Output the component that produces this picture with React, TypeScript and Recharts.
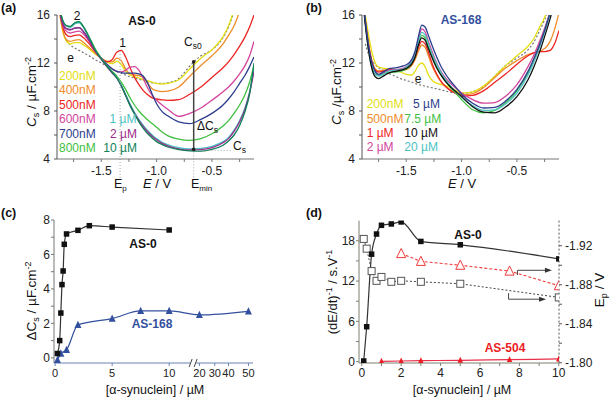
import React from "react";
import { LineChart, ComposedChart, Line, XAxis, YAxis, ReferenceLine, ReferenceDot } from "recharts";

const FONT = '"Liberation Sans", Arial, Helvetica, sans-serif';

// ---------------- Panel (a): AS-0 capacitance curves ----------------
const E_A = [-1.9, -1.86, -1.82, -1.78, -1.74, -1.7, -1.66, -1.6, -1.55, -1.5, -1.45, -1.4, -1.36, -1.32, -1.28, -1.24, -1.2, -1.16, -1.12, -1.08, -1.04, -1.0, -0.95, -0.9, -0.8, -0.7, -0.6, -0.5, -0.4, -0.35, -0.3, -0.25, -0.2, -0.16, -0.12];
const A_E = [null, null, 13.9, 13.5, 13.25, 13.05, 12.85, 12.55, 12.25, 12.0, 11.75, 11.5, 11.3, 11.15, 11.0, 10.85, 10.75, 10.65, 10.55, 10.45, 10.35, 10.3, 10.3, 10.35, 10.7, 11.75, 12.6, 13.1, 14.1, 15.0, 16.3, null, null, null, null];
const A_200NM = [18, 15.2, 13.9, 13.6, 13.7, 13.7, 13.5, 13.1, 12.7, 12.4, 12.1, 11.95, 12.15, 11.9, 11.3, 11.0, 10.85, 10.75, 10.6, 10.5, 10.4, 10.3, 10.25, 10.3, 10.6, 11.5, 12.4, 13.1, 14.2, 15.1, 16.5, null, null, null, null];
const A_400NM = [18, 15.3, 14.0, 13.8, 13.9, 13.95, 13.7, 13.2, 12.8, 12.4, 12.15, 12.1, 12.4, 12.2, 11.5, 11.1, 11.0, 10.95, 10.8, 10.3, 9.85, 9.7, 9.62, 9.65, 10.0, 10.9, 11.8, 12.6, 13.6, 14.3, 15.1, 16.3, null, null, null];
const A_500NM = [18, 15.5, 14.4, 14.2, 14.3, 14.35, 14.1, 13.5, 12.9, 12.4, 12.1, 12.3, 12.9, 13.05, 12.5, 11.6, 10.8, 10.2, 9.7, 9.35, 9.1, 9.0, 8.92, 8.88, 8.95, 9.4, 10.0, 10.8, 11.6, 12.1, 12.7, 13.4, 14.2, 15.0, 16.0];
const A_600NM = [18, 15.6, 14.7, 14.5, 14.6, 14.65, 14.4, 13.7, 13.0, 12.4, 11.9, 11.5, 11.3, 11.25, 11.4, 11.65, 11.7, 11.4, 10.7, 9.9, 9.3, 8.9, 8.5, 8.15, 7.55, 7.8, 8.25, 8.9, 9.6, 10.0, 10.5, 11.1, 11.8, 12.6, 13.8];
const A_700NM = [18, 15.7, 14.9, 14.8, 14.9, 14.95, 14.6, 13.8, 13.0, 12.4, 11.9, 11.5, 11.3, 11.2, 11.15, 11.15, 11.15, 11.1, 10.9, 10.3, 9.4, 8.6, 7.95, 7.6, 7.1, 6.95, 7.3, 7.8, 8.5, 9.0, 9.6, 10.3, 11.0, 11.7, 12.5];
const A_800NM = [18, 15.9, 15.1, 15.0, 15.3, 15.4, 15.0, 14.0, 13.1, 12.4, 11.8, 11.3, 10.9, 10.4, 9.8, 9.1, 8.5, 8.0, 7.6, 7.25, 6.95, 6.65, 6.25, 5.95, 5.65, 5.55, 5.7, 6.1, 6.75, 7.2, 7.8, 8.5, 9.4, 10.4, 11.8];
const A_1UM = [18, 15.9, 15.1, 15.0, 15.25, 15.35, 14.95, 13.95, 13.0, 12.35, 11.75, 11.2, 10.8, 10.2, 9.4, 8.6, 7.9, 7.3, 6.8, 6.35, 6.0, 5.7, 5.4, 5.2, 4.95, 4.85, 4.88, 5.05, 5.45, 5.8, 6.4, 7.2, 8.3, 9.6, 11.6];
const A_2UM = [18, 15.7, 14.9, 14.75, 14.9, 14.95, 14.6, 13.7, 12.9, 12.3, 11.7, 11.15, 10.75, 10.1, 9.3, 8.5, 7.8, 7.2, 6.7, 6.25, 5.9, 5.6, 5.3, 5.1, 4.85, 4.75, 4.78, 4.95, 5.35, 5.7, 6.3, 7.1, 8.2, 9.5, 11.3];
const A_10UM = [18, 15.9, 15.15, 15.05, 15.35, 15.45, 15.0, 13.95, 13.0, 12.35, 11.75, 11.2, 10.75, 10.1, 9.3, 8.45, 7.75, 7.1, 6.55, 6.1, 5.75, 5.45, 5.2, 5.0, 4.78, 4.68, 4.66, 4.8, 5.15, 5.5, 6.0, 6.8, 8.0, 9.4, 12.0];
const A_EMIN = -0.665;
const A_CS0 = 12.1;
const A_CS = 4.8;
const A_EP = -1.33;

// ---------------- Panel (b): AS-168 capacitance curves ----------------
const E_B = [-1.9, -1.87, -1.84, -1.81, -1.78, -1.75, -1.7, -1.65, -1.6, -1.55, -1.5, -1.45, -1.42, -1.39, -1.36, -1.33, -1.3, -1.26, -1.22, -1.18, -1.14, -1.1, -1.05, -1.0, -0.9, -0.8, -0.7, -0.6, -0.5, -0.4, -0.35, -0.3, -0.25, -0.2, -0.16, -0.12];
const B_E = [null, 13.6, 12.7, 12.2, 11.85, 11.6, 11.35, 11.1, 10.9, 10.7, 10.55, 10.4, 10.3, 10.2, 10.15, 10.07, 10.0, 9.92, 9.85, 9.75, 9.65, 9.57, 9.5, 9.47, 9.6, 10.0, 10.9, 11.8, 12.4, 13.1, 13.7, 14.6, 15.6, 16.8, null, null];
const B_200NM = [18, 16.0, 14.3, 12.9, 12.0, 11.65, 11.55, 11.5, 11.4, 11.25, 11.05, 11.0, 11.3, 11.8, 12.0, 11.7, 11.0, 10.5, 10.3, 10.2, 10.1, 9.95, 9.7, 9.5, 9.6, 10.1, 10.9, 11.8, 12.6, 13.4, 14.0, 14.9, 15.8, 17.0, null, null];
const B_500NM = [18, 15.6, 13.6, 12.2, 11.5, 11.35, 11.4, 11.5, 11.45, 11.4, 11.45, 11.8, 12.3, 13.0, 13.5, 13.3, 12.6, 11.6, 10.9, 10.35, 10.0, 9.75, 9.5, 9.35, 9.45, 9.95, 10.8, 11.6, 12.2, 12.7, 12.85, 12.95, 13.2, 13.8, 14.8, 16.2];
const B_1UM = [18, 15.6, 13.5, 12.1, 11.4, 11.25, 11.35, 11.45, 11.45, 11.4, 11.5, 11.9, 12.5, 13.3, 13.8, 13.6, 12.9, 11.8, 11.0, 10.4, 10.0, 9.7, 9.45, 9.25, 9.3, 9.7, 10.4, 11.1, 11.9, 12.6, 12.85, 12.95, 12.95, 13.05, 13.6, 14.7];
const B_2UM = [18, 15.4, 13.3, 11.9, 11.2, 11.0, 11.2, 11.4, 11.45, 11.5, 11.7, 12.15, 12.8, 13.95, 14.85, 14.6, 13.8, 12.8, 11.9, 11.2, 10.7, 10.3, 9.9, 9.5, 8.95, 8.65, 8.7, 9.25, 10.2, 11.7, 12.6, 13.7, 14.9, 16.3, null, null];
const B_5UM = [18, 15.5, 13.4, 12.0, 11.3, 11.05, 11.3, 11.55, 11.6, 11.7, 11.85, 12.3, 13.0, 14.2, 15.15, 15.0, 14.3, 13.3, 12.4, 11.6, 11.0, 10.5, 9.95, 9.4, 8.65, 8.25, 8.3, 8.85, 9.8, 11.3, 12.3, 13.4, 14.7, 16.2, null, null];
const B_7_5UM = [18, 15.3, 13.1, 11.7, 11.1, 11.0, 11.1, 11.2, 11.25, 11.3, 11.5, 11.95, 12.6, 13.6, 14.3, 14.1, 13.4, 12.4, 11.6, 10.9, 10.4, 9.95, 9.45, 8.95, 8.1, 7.85, 8.05, 8.7, 9.7, 11.2, 12.2, 13.4, 14.7, 16.2, null, null];
const B_10UM = [18, 15.2, 13.0, 11.5, 10.85, 10.7, 10.95, 11.2, 11.3, 11.4, 11.55, 11.95, 12.5, 13.5, 14.1, 13.9, 13.2, 12.3, 11.5, 10.9, 10.4, 10.0, 9.6, 9.2, 8.35, 7.9, 7.85, 8.35, 9.2, 10.6, 11.6, 12.8, 14.2, 15.7, 17.0, null];
const B_20UM = [18, 15.4, 13.2, 11.8, 11.1, 10.9, 11.1, 11.35, 11.4, 11.45, 11.65, 12.1, 12.7, 13.8, 14.55, 14.35, 13.6, 12.6, 11.8, 11.1, 10.55, 10.1, 9.6, 9.15, 8.45, 8.05, 8.1, 8.6, 9.5, 11.0, 12.0, 13.2, 14.6, 16.1, null, null];

// ---------------- Panel (c): ΔCs vs concentration ----------------
const C_AS0_X = [0.2, 0.4, 0.5, 0.6, 0.7, 0.8, 1, 2, 3, 5, 10];
const C_AS0_Y = [0.25, 1.0, 2.6, 4.25, 5.04, 6.59, 7.19, 7.4, 7.67, 7.59, 7.42];
const C_AS168_X = [0.2, 0.5, 1, 2, 5, 7.5, 10, 20, 50];
const C_AS168_Y = [-0.12, 0.25, 0.46, 1.91, 2.28, 2.72, 2.72, 2.49, 2.7];
const C_TICKS = [0, 5, 10, 20, 30, 40, 50];
// broken axis: concentration -> axis position
const C_BREAK_FROM = [10, 20, 30, 40, 50];
const C_BREAK_TO = [10, 12.65, 14.0, 15.2, 16.95];

// ---------------- Panel (d): (dE/dt)^-1 and Ep ----------------
const D_AS0_X = [0.1, 0.25, 0.5, 0.75, 1, 1.5, 2, 3, 5, 10];
const D_AS0_Y = [0.1, 5.2, 16.0, 19.0, 20.3, 20.5, 20.8, 17.9, 17.4, 15.3];
const D_EP0_X = [0.1, 0.25, 0.5, 0.75, 1, 1.5, 2, 3, 5, 10];
const D_EP0_Y = [-1.927, -1.917, -1.894, -1.884, -1.888, -1.883, -1.884, -1.883, -1.881, -1.867];
const D_EP504_X = [2, 3, 5, 7.5, 10];
const D_EP504_Y = [-1.912, -1.904, -1.9, -1.894, -1.879];
const D_AS504_X = [1, 2, 3, 5, 7.5, 10];
const D_AS504_Y = [0.05, 0.1, 0.15, 0.2, 0.3, 0.4];

// ---------------- helpers ----------------
const mapC = (v: number) => {
  if (v <= 10) return v;
  for (let i = 1; i < C_BREAK_FROM.length; i++) {
    if (v <= C_BREAK_FROM[i]) {
      const a = C_BREAK_FROM[i - 1], b = C_BREAK_FROM[i];
      const ta = C_BREAK_TO[i - 1], tb = C_BREAK_TO[i];
      return ta + ((v - a) / (b - a)) * (tb - ta);
    }
  }
  return C_BREAK_TO[C_BREAK_TO.length - 1];
};

const build = (xs: number[], series: Record<string, (number | null)[]>) =>
  xs.map((x, i) => {
    const r: Record<string, number | null> = { x };
    for (const k of Object.keys(series)) r[k] = series[k][i];
    return r;
  });

const pts = (xs: number[], ys: number[], fx: (v: number) => number = (v) => v) =>
  xs.map((x, i) => ({ x: fx(x), v: ys[i] }));

const squareDot = (fill: string, size: number, stroke = "none", sw = 1) => (p: any) => {
  const { cx, cy, index } = p;
  if (cx == null || cy == null) return <g key={`s${index}`} />;
  return <rect key={`s${index}`} x={cx - size / 2} y={cy - size / 2} width={size} height={size} fill={fill} stroke={stroke} strokeWidth={sw} />;
};
const triDot = (fill: string, size: number, stroke = "none", sw = 1) => (p: any) => {
  const { cx, cy, index } = p;
  if (cx == null || cy == null) return <g key={`t${index}`} />;
  const h = size * 0.9;
  return (
    <polygon
      key={`t${index}`}
      points={`${cx},${cy - h / 2 - 1} ${cx - size / 2},${cy + h / 2} ${cx + size / 2},${cy + h / 2}`}
      fill={fill}
      stroke={stroke}
      strokeWidth={sw}
    />
  );
};

const tickStyle = { fontSize: 12, fill: "#222", fontFamily: FONT };
const tickStyleSm = { fontSize: 11, fill: "#222", fontFamily: FONT };

// colours
const COL = {
  yellow: "#e3de12",
  orange: "#ef8c2a",
  red: "#ec2424",
  magenta: "#d2459c",
  navy: "#2d3d8e",
  green: "#3fbf3f",
  cyan: "#4cc3c3",
  purple: "#9c2b8d",
  dkgreen: "#0f7f58",
  black: "#111111",
  blue168: "#33509e",
};

const rowsA = build(E_A, {
  e: A_E, n200: A_200NM, n400: A_400NM, n500: A_500NM, n600: A_600NM, n700: A_700NM,
  n800: A_800NM, u1: A_1UM, u2: A_2UM, u10: A_10UM,
});
const rowsB = build(E_B, {
  e: B_E, n200: B_200NM, n500: B_500NM, u1: B_1UM, u2: B_2UM, u5: B_5UM, u7: B_7_5UM, u10: B_10UM, u20: B_20UM,
});

const lineA: [string, string][] = [
  ["n200", COL.yellow], ["n400", COL.orange], ["n500", COL.red], ["n600", COL.magenta], ["n700", COL.navy],
  ["n800", COL.green], ["u1", COL.cyan], ["u2", COL.purple], ["u10", COL.dkgreen],
];
const lineB: [string, string][] = [
  ["n200", COL.yellow], ["n500", COL.orange], ["u1", COL.red], ["u2", COL.magenta], ["u7", COL.green],
  ["u20", COL.cyan], ["u10", COL.black], ["u5", COL.navy],
];

const eTicks = [-1.75, -1.5, -1.25, -1.0, -0.75, -0.5, -0.25];
const eFmt = (v: number) => (Math.abs(v * 2 - Math.round(v * 2)) < 1e-6 ? v.toFixed(1) : "");
const cTicks = [4, 6, 8, 10, 12, 14, 16];
const cFmt = (v: number) => (v % 4 === 0 ? String(v) : "");

function CapPanel({ rows, lines, extras }: { rows: any[]; lines: [string, string][]; extras?: React.ReactNode }) {
  return (
    <LineChart width={300} height={200} data={rows} margin={{ top: 15, right: 46, bottom: 21, left: 27 }}>
      <XAxis type="number" dataKey="x" domain={[-1.9, -0.12]} allowDataOverflow ticks={eTicks} interval={0}
        tickFormatter={eFmt} height={20} stroke="#777" tick={tickStyle} tickSize={3} tickMargin={4} />
      <YAxis type="number" domain={[4, 16]} allowDataOverflow ticks={cTicks} interval={0} tickFormatter={cFmt}
        width={30} stroke="#555" tick={tickStyle} tickSize={3} tickMargin={4} />
      <Line dataKey="e" stroke="#777" strokeDasharray="2 2" strokeWidth={1.2} dot={false} type="monotone" isAnimationActive={false} />
      {lines.map(([k, c]) => (
        <Line key={k} dataKey={k} stroke={c} strokeWidth={1.3} dot={false} type="monotone" isAnimationActive={false} />
      ))}
      {extras}
    </LineChart>
  );
}

function PanelA() {
  return (
    <CapPanel rows={rowsA} lines={lineA} extras={[
      <ReferenceLine key="r1" segment={[{ x: A_EMIN, y: A_CS }, { x: A_EMIN, y: A_CS0 }]} stroke="#444" strokeWidth={1.5} ifOverflow="visible" />,
      <ReferenceLine key="r2" segment={[{ x: A_EMIN, y: A_CS }, { x: A_EMIN, y: 2.3 }]} stroke="#aaa" strokeDasharray="1 2" ifOverflow="visible" />,
      <ReferenceLine key="r3" segment={[{ x: A_EMIN, y: 4.72 }, { x: -0.33, y: 4.72 }]} stroke="#aaa" strokeDasharray="1 2" ifOverflow="visible" />,
      <ReferenceLine key="r4" segment={[{ x: A_EP, y: 13.0 }, { x: A_EP, y: 2.3 }]} stroke="#aaa" strokeDasharray="1 2" ifOverflow="visible" />,
      <ReferenceDot key="d1" x={A_EMIN} y={A_CS0} r={1.8} fill="#222" stroke="none" ifOverflow="visible" />,
      <ReferenceDot key="d2" x={A_EMIN} y={A_CS} r={1.8} fill="#222" stroke="none" ifOverflow="visible" />,
    ]} />
  );
}

function PanelB() {
  return <CapPanel rows={rowsB} lines={lineB} />;
}

const breakShape = (p: any) => {
  const { cx, cy } = p;
  return (
    <g>
      <rect x={cx - 3} y={cy - 4} width={6} height={8} fill="#fff" />
      <line x1={cx - 4} y1={cy + 4} x2={cx - 1} y2={cy - 4} stroke="#444" strokeWidth={1} />
      <line x1={cx + 1} y1={cy + 4} x2={cx + 4} y2={cy - 4} stroke="#444" strokeWidth={1} />
    </g>
  );
};

function PanelC() {
  const as0 = pts(C_AS0_X, C_AS0_Y, mapC);
  const as168 = pts(C_AS168_X, C_AS168_Y, mapC);
  return (
    <LineChart width={310} height={203} margin={{ top: 25, right: 57, bottom: 15, left: 24 }}>
      <XAxis type="number" dataKey="x" domain={[-0.1, 17.35]} allowDataOverflow ticks={C_TICKS.map(mapC)} interval={0}
        tickFormatter={(v: number) => { const i = C_TICKS.findIndex((t) => Math.abs(mapC(t) - v) < 1e-6); return i >= 0 ? String(C_TICKS[i]) : ""; }}
        height={20} stroke="#6a82b6" tick={tickStyleSm} tickSize={3} tickMargin={3} />
      <YAxis type="number" domain={[-0.3, 8]} allowDataOverflow ticks={[0, 1, 2, 3, 4, 5, 6, 7, 8]} interval={0}
        tickFormatter={(v: number) => (v % 2 === 0 ? String(v) : "")} width={30} stroke="#777" tick={tickStyle} tickSize={3} tickMargin={1} />
      <Line data={as168} dataKey="v" stroke={COL.blue168} strokeWidth={1.2} type="monotone"
        dot={triDot(COL.blue168, 7)} isAnimationActive={false} />
      <Line data={as0} dataKey="v" stroke="#333" strokeWidth={1.2} type="monotone"
        dot={squareDot("#111", 5.5)} isAnimationActive={false} />
      <ReferenceDot x={12.1} y={-0.3} r={3} shape={breakShape} ifOverflow="visible" />
    </LineChart>
  );
}

const arrowHead = (p: any) => {
  const { cx, cy } = p;
  return <polygon points={`${cx + 4},${cy} ${cx - 3},${cy - 2.5} ${cx - 3},${cy + 2.5}`} fill="#333" />;
};

function PanelD() {
  const as0 = pts(D_AS0_X, D_AS0_Y);
  const ep0 = pts(D_EP0_X, D_EP0_Y);
  const ep504 = pts(D_EP504_X, D_EP504_Y);
  const as504 = pts(D_AS504_X, D_AS504_Y);
  return (
    <ComposedChart width={309} height={203} margin={{ top: 25.6, right: 0, bottom: 15, left: 24 }}>
      <XAxis type="number" dataKey="x" domain={[-0.14, 10.01]} allowDataOverflow ticks={[0, 1, 2, 3, 4, 5, 6, 7, 8, 9, 10]} interval={0}
        tickFormatter={(v: number) => (v % 2 === 0 ? String(v) : "")} height={20} stroke="#7d806e" tick={tickStyle} tickSize={3} tickMargin={2} />
      <YAxis yAxisId="L" type="number" domain={[-0.2, 21]} allowDataOverflow ticks={[0, 3, 6, 9, 12, 15, 18]} interval={0}
        tickFormatter={(v: number) => (v % 6 === 0 ? String(v) : "")} width={30} stroke="#7d806e" tick={tickStyle} tickSize={3} tickMargin={1} />
      <YAxis yAxisId="R" orientation="right" type="number" domain={[-1.9458, -1.7997]} reversed allowDataOverflow
        ticks={[-1.92, -1.9, -1.88, -1.86, -1.84, -1.82, -1.8]} interval={0}
        tickFormatter={(v: number) => (Math.round(v * 100) % 4 === 0 ? v.toFixed(2) : "")}
        width={55} axisLine={{ stroke: "#555", strokeDasharray: "2 2" }} tickLine={{ stroke: "#555" }} tick={tickStyle} tickSize={3} tickMargin={3} />
      <Line yAxisId="L" data={as504} dataKey="v" stroke="#e8304a" strokeWidth={1.2} type="monotone"
        dot={triDot("#ec1c24", 5.5)} isAnimationActive={false} />
      <Line yAxisId="R" data={ep0} dataKey="v" stroke="#444" strokeWidth={1} strokeDasharray="2 2" type="linear"
        dot={squareDot("#fff", 7, "#555", 1)} isAnimationActive={false} />
      <Line yAxisId="R" data={ep504} dataKey="v" stroke="#ef3a3a" strokeWidth={1.1} strokeDasharray="3 2" type="linear"
        dot={triDot("#fff", 9, "#ef3a3a", 1)} isAnimationActive={false} />
      <Line yAxisId="L" data={as0} dataKey="v" stroke="#333" strokeWidth={1.2} type="monotone"
        dot={squareDot("#111", 5.5)} isAnimationActive={false} />
      <ReferenceLine yAxisId="L" segment={[{ x: 7.9, y: 12.9 }, { x: 7.9, y: 13.6 }]} stroke="#444" ifOverflow="visible" />
      <ReferenceLine yAxisId="L" segment={[{ x: 7.9, y: 13.6 }, { x: 9.4, y: 13.6 }]} stroke="#444" ifOverflow="visible" />
      <ReferenceDot yAxisId="L" x={9.45} y={13.6} r={3} shape={arrowHead} ifOverflow="visible" />
      <ReferenceLine yAxisId="L" segment={[{ x: 7.45, y: 10.2 }, { x: 7.45, y: 9.3 }]} stroke="#444" ifOverflow="visible" />
      <ReferenceLine yAxisId="L" segment={[{ x: 7.45, y: 9.3 }, { x: 9.1, y: 9.3 }]} stroke="#444" ifOverflow="visible" />
      <ReferenceDot yAxisId="L" x={9.15} y={9.3} r={3} shape={arrowHead} ifOverflow="visible" />
    </ComposedChart>
  );
}

type TP = { x: number; y: number; size?: number; anchor?: "start" | "middle" | "end"; weight?: string; fill?: string; rot?: number; children: React.ReactNode };
const T = ({ x, y, size = 12, anchor = "start", weight = "normal", fill = "#111", rot, children }: TP) => (
  <text x={x} y={y} fontSize={size} textAnchor={anchor} fontWeight={weight} fill={fill} fontFamily={FONT}
    transform={rot ? `rotate(${rot} ${x} ${y})` : undefined}>{children}</text>
);
const Sub = ({ children, size = 8.5 }: { children: React.ReactNode; size?: number }) => (
  <tspan fontSize={size} dy={3}>{children}</tspan>
);

function Overlay() {
  const legA: [string, string, number, number][] = [
    ["200nM", COL.yellow, 59, 80], ["400nM", COL.orange, 59, 94.4], ["500nM", COL.red, 59, 108.8],
    ["600nM", COL.magenta, 59, 123.2], ["700nM", COL.navy, 59, 137.6], ["800nM", COL.green, 59, 152],
    ["1 \u00b5M", COL.cyan, 109.5, 123.2], ["2 \u00b5M", COL.purple, 110, 137.6], ["10 \u00b5M", COL.dkgreen, 103.3, 152],
  ];
  const legB: [string, string, number, number][] = [
    ["200nM", COL.yellow, 366.7, 108.3], ["500nM", COL.orange, 366.7, 122.6], ["1 \u00b5M", COL.red, 366.7, 136.9],
    ["2 \u00b5M", COL.magenta, 366.7, 151.2], ["5 \u00b5M", COL.navy, 413, 108.3], ["7.5 \u00b5M", COL.green, 404.3, 122.6],
    ["10 \u00b5M", COL.black, 404.3, 136.9], ["20 \u00b5M", COL.cyan, 404.3, 151.2],
  ];
  return (
    <svg width={614} height={398} style={{ position: "absolute", left: 0, top: 0, pointerEvents: "none" }}>
      {/* panel (a) */}
      <T x={1} y={12} size={12.5} weight="bold">(a)</T>
      <T x={77} y={20} anchor="middle">2</T>
      <T x={70.7} y={62} anchor="middle">e</T>
      <T x={122.7} y={47} anchor="middle">1</T>
      <T x={142} y={25} anchor="middle" weight="bold">AS-0</T>
      <T x={184} y={46}>C<Sub>s0</Sub></T>
      <T x={197} y={130}>{"\u0394"}C<Sub>s</Sub></T>
      <T x={233} y={150}>C<Sub>s</Sub></T>
      {legA.map(([t, c, x, y]) => <T key={t + x} x={x} y={y} fill={c}>{t}</T>)}
      <T x={36} y={92} size={13.5} anchor="middle" rot={-90}><tspan fontStyle="italic">C</tspan><Sub size={9}>s</Sub><tspan dy={-3}> / {"\u00b5"}F.cm</tspan><tspan fontSize={9} dy={-5}>-2</tspan></T>
      <T x={157} y={188} size={13} anchor="middle"><tspan fontStyle="italic">E</tspan> / V</T>
      <T x={114} y={188} size={12.5}>E<Sub size={8}>p</Sub></T>
      <T x={191} y={188} size={12.5}>E<Sub size={8}>min</Sub></T>

      {/* panel (b) */}
      <T x={306} y={12} size={12.5} weight="bold">(b)</T>
      <T x={461} y={24} anchor="middle" weight="bold" fill={COL.blue168}>AS-168</T>
      <T x={418} y={83} anchor="middle">e</T>
      {legB.map(([t, c, x, y]) => <T key={t + x} x={x} y={y} fill={c}>{t}</T>)}
      <T x={341} y={92} size={13.5} anchor="middle" rot={-90}><tspan fontStyle="italic">C</tspan><Sub size={9}>s</Sub><tspan dy={-3}> /{"\u00b5"}F.cm</tspan><tspan fontSize={9} dy={-5}>-2</tspan></T>
      <T x={462} y={188} size={13} anchor="middle"><tspan fontStyle="italic">E</tspan> / V</T>

      {/* panel (c) */}
      <T x={1} y={217} size={12.5} weight="bold">(c)</T>
      <T x={143} y={248} anchor="middle" weight="bold">AS-0</T>
      <T x={152} y={328} anchor="middle" weight="bold" fill={COL.blue168}>AS-168</T>
      <T x={36} y={301} size={13.5} anchor="middle" rot={-90}>{"\u0394"}C<Sub size={9}>s</Sub><tspan dy={-3}> / {"\u00b5"}F.cm</tspan><tspan fontSize={9} dy={-5}>-2</tspan></T>
      <T x={155} y={394} size={12.5} anchor="middle">[{"\u03b1"}-synuclein] / {"\u00b5"}M</T>

      {/* panel (d) */}
      <T x={306} y={217} size={12.5} weight="bold">(d)</T>
      <T x={468} y={239} anchor="middle" weight="bold">AS-0</T>
      <T x={505} y={352} anchor="middle" weight="bold" fill="#ec1c24">AS-504</T>
      <T x={337} y={292} size={13} anchor="middle" rot={-90}>(dE/dt)<tspan fontSize={9} dy={-5}>-1</tspan><tspan dy={5}> / s.V</tspan><tspan fontSize={9} dy={-5}>-1</tspan></T>
      <T x={604} y={290} size={13.5} anchor="middle" rot={-90}>E<Sub size={9}>p</Sub><tspan dy={-3}> / V</tspan></T>
      <T x={462} y={394} size={12.5} anchor="middle">[{"\u03b1"}-synuclein] / {"\u00b5"}M</T>
    </svg>
  );
}

export default function App() {
  return (
    <div style={{ position: "absolute", left: 0, top: 0, width: 614, height: 398, background: "#fff", overflow: "hidden", fontFamily: FONT }}>
      <div style={{ position: "absolute", left: 0, top: 0 }}><PanelA /></div>
      <div style={{ position: "absolute", left: 305, top: 0 }}><PanelB /></div>
      <div style={{ position: "absolute", left: 0, top: 195 }}><PanelC /></div>
      <div style={{ position: "absolute", left: 305, top: 195 }}><PanelD /></div>
      <Overlay />
    </div>
  );
}
